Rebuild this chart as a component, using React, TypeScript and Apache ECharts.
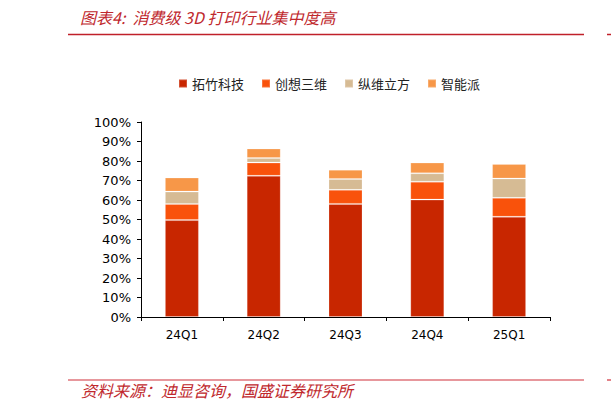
import { useEffect, useRef } from "react"
import * as echarts from "echarts"

// quarters on the x axis
const categories = ["24Q1", "24Q2", "24Q3", "24Q4", "25Q1"]

// market share per company, in %
const tuozhu = [49.7, 72.4, 58.0, 60.2, 51.4]
const chuangxiang = [8.3, 6.8, 7.2, 9.2, 9.7]
const zongwei = [6.3, 2.3, 5.6, 4.3, 9.9]
const zhinengpai = [7.2, 4.9, 4.7, 5.5, 7.5]

const seriesNames = ["拓竹科技", "创想三维", "纵维立方", "智能派"]
const seriesColors = ["#C82600", "#F9520B", "#D6BB94", "#F79748"]

const titleText = "图表4:  消费级 3D 打印行业集中度高"
const sourceText = "资料来源：迪显咨询，国盛证券研究所"

const cjkFont = "'Noto Sans CJK SC', sans-serif"
const numFont = "'DejaVu Sans', sans-serif"

export default function App() {
  const chartRef = useRef<HTMLDivElement>(null)

  useEffect(() => {
    if (!chartRef.current) return
    const chart = echarts.init(chartRef.current, null, { renderer: "svg" })

    const values = [tuozhu, chuangxiang, zongwei, zhinengpai]

    const option: echarts.EChartsOption = {
      animation: false,
      backgroundColor: "#fff",
      legend: {
        data: seriesNames,
        left: 173,
        top: 72,
        itemWidth: 8,
        itemHeight: 8,
        itemGap: 17,
        icon: "rect",
        textStyle: {
          fontFamily: cjkFont,
          fontSize: 13,
          color: "#222",
        },
      },
      grid: {
        left: 141,
        right: 61,
        top: 122,
        bottom: 94,
      },
      xAxis: {
        type: "category",
        data: categories,
        axisLine: { lineStyle: { color: "#000", width: 1 } },
        axisTick: { show: true, length: 4, lineStyle: { color: "#000" } },
        axisLabel: {
          color: "#000",
          fontFamily: numFont,
          fontSize: 12,
          margin: 12,
        },
      },
      yAxis: {
        type: "value",
        min: 0,
        max: 100,
        interval: 10,
        axisLine: { show: true, lineStyle: { color: "#000", width: 1 } },
        axisTick: { show: true, length: 4, lineStyle: { color: "#000" } },
        splitLine: { show: false },
        axisLabel: {
          color: "#000",
          fontFamily: numFont,
          fontSize: 13,
          margin: 10,
          formatter: "{value}%",
        },
      },
      series: values.map((data, i) => ({
        name: seriesNames[i],
        type: "bar",
        stack: "share",
        data,
        barWidth: 34,
        itemStyle: {
          color: seriesColors[i],
          borderColor: "rgba(255,255,255,0.2)",
          borderWidth: 1,
        },
      })),
      graphic: [
        {
          type: "text",
          left: 80,
          top: 9,
          style: {
            text: titleText,
            fill: "#C0282D",
            fontFamily: cjkFont,
            fontSize: 16,
            fontStyle: "italic",
          },
        },
        {
          type: "line",
          shape: { x1: 68, y1: 34.5, x2: 584, y2: 34.5 },
          style: { stroke: "#C0202A", lineWidth: 1.5 },
        },
        {
          type: "line",
          shape: { x1: 607, y1: 34.5, x2: 611, y2: 34.5 },
          style: { stroke: "#C0202A", lineWidth: 1.5 },
        },
        {
          type: "line",
          shape: { x1: 68, y1: 380, x2: 584, y2: 380 },
          style: { stroke: "#D0303A", lineWidth: 1.2 },
        },
        {
          type: "line",
          shape: { x1: 607, y1: 380, x2: 611, y2: 380 },
          style: { stroke: "#D0303A", lineWidth: 1.2 },
        },
        {
          type: "text",
          left: 81,
          top: 382,
          style: {
            text: sourceText,
            fill: "#C0282D",
            fontFamily: cjkFont,
            fontSize: 16,
            fontStyle: "italic",
          },
        },
      ],
    }

    chart.setOption(option)

    return () => {
      chart.dispose()
    }
  }, [])

  return (
    <div
      ref={chartRef}
      style={{ position: "absolute", left: 0, top: 0, width: "611px", height: "411px" }}
    />
  )
}
